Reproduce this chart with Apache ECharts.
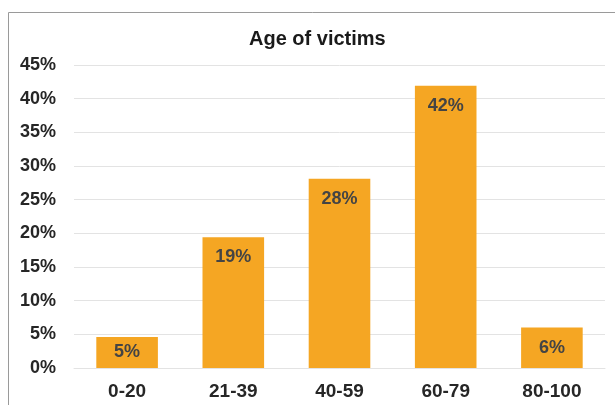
<!DOCTYPE html>
<html>
<head>
<meta charset="utf-8">
<script src="https://cdn.jsdelivr.net/npm/echarts@6/dist/echarts.min.js"></script>
<style>
html,body{margin:0;padding:0;background:#fff;}
#chart{width:615px;height:405px;}
</style>
</head>
<body>
<div id="chart"></div>
<script>
const categories = ['0-20', '21-39', '40-59', '60-79', '80-100'];
const values = [4.6, 19.4, 28.1, 41.9, 6.0];
const yTicks = ['0%', '5%', '10%', '15%', '20%', '25%', '30%', '35%', '40%', '45%'];
const chartTitle = 'Age of victims';

const FONT = '"Liberation Sans", Arial, sans-serif';
const chart = echarts.init(document.getElementById('chart'), null, {renderer: 'canvas'});

const seriesData = values.map(v => ({
  value: v,
  label: v < 10 ? {position: 'inside'} : {position: 'insideTop', distance: 11}
}));

chart.setOption({
  animation: false,
  backgroundColor: '#fff',
  title: {
    text: chartTitle,
    left: 244,
    top: 24,
    textStyle: {fontFamily: FONT, fontWeight: 'bold', fontSize: 20, color: '#1a1a1a'}
  },
  graphic: [{
    type: 'rect',
    shape: {x: 8.5, y: 12.5, width: 800, height: 600},
    style: {fill: null, stroke: '#9a9a9a', lineWidth: 1},
    silent: true
  }],
  grid: {left: 74, right: 10, top: 65, bottom: 37, containLabel: false},
  xAxis: {
    type: 'category',
    data: categories,
    axisLine: {show: true, lineStyle: {color: '#e3e3e3', width: 1}},
    axisTick: {show: false},
    axisLabel: {fontFamily: FONT, fontWeight: 'bold', fontSize: 19, color: '#262626', margin: 14}
  },
  yAxis: {
    type: 'value',
    min: 0,
    max: 45,
    interval: 5,
    axisLine: {show: false},
    axisTick: {show: false},
    splitLine: {lineStyle: {color: '#e3e3e3', width: 1}},
    axisLabel: {
      fontFamily: FONT, fontWeight: 'bold', fontSize: 18, color: '#262626', margin: 18,
      formatter: v => yTicks[Math.round(v / 5)]
    }
  },
  series: [{
    type: 'bar',
    data: seriesData,
    barWidth: '58%',
    itemStyle: {color: '#F5A623'},
    label: {
      show: true,
      fontFamily: FONT, fontWeight: 'bold', fontSize: 18, color: '#444444',
      formatter: p => Math.round(p.value) + '%'
    }
  }]
});
</script>
</body>
</html>
